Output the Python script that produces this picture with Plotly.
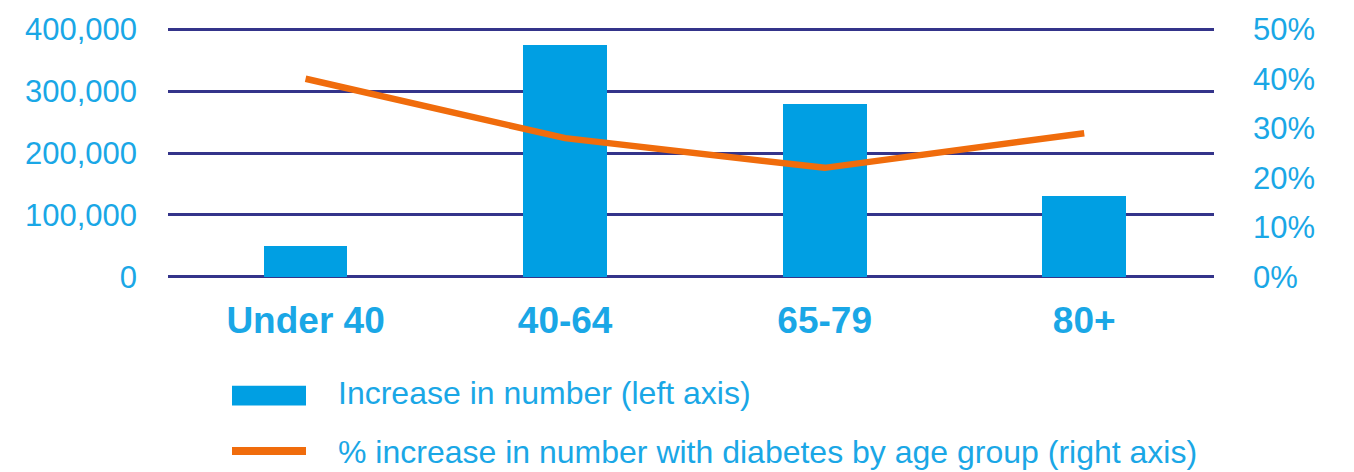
import plotly.graph_objects as go

categories = ["Under 40", "40-64", "65-79", "80+"]
increase_number = [50000, 375000, 280000, 130000]
pct_increase = [40, 28, 22, 29]
left_ticks = [0, 100000, 200000, 300000, 400000]
right_ticks = [0, 10, 20, 30, 40, 50]
legend_labels = ["Increase in number (left axis)",
                 "% increase in number with diabetes by age group (right axis)"]

BLUE = "#009FE3"
TEXT = "#1AA7E6"
ORANGE = "#F06C0C"
GRID = "#34348A"
FONT = "Liberation Sans, Arial, sans-serif"

W, H = 1354, 472
L, R, T, B = 168, 1214, 27, 277
PAD = 0.005  # small range padding so edge gridlines are drawn

ymax = left_ticks[-1]
y2max = right_ticks[-1]
span = B - T
top = T - PAD * span
bot = B + PAD * span

fig = go.Figure()
fig.add_trace(go.Bar(x=categories, y=increase_number, marker_color=BLUE,
                     marker_line_width=0, width=0.323, showlegend=False,
                     yaxis="y"))
fig.add_trace(go.Scatter(x=categories, y=pct_increase, mode="lines",
                         line=dict(color=ORANGE, width=6.5), showlegend=False,
                         yaxis="y2"))

fig.update_layout(
    width=W, height=H,
    margin=dict(l=L, r=W - R, t=top, b=H - bot, pad=0),
    paper_bgcolor="white", plot_bgcolor="white",
    font=dict(family=FONT, color=TEXT),
    xaxis=dict(range=[-0.53, 3.5], showgrid=False, zeroline=False,
               showline=False, ticks="",
               tickfont=dict(family=FONT, size=37, color=TEXT, weight="bold"),
               ticklabelstandoff=17),
    yaxis=dict(range=[-PAD * ymax, ymax * (1 + PAD)], tickvals=left_ticks,
               tickformat=",",
               showgrid=True, gridcolor=GRID, gridwidth=2.5,
               zeroline=False, showline=False, ticks="",
               tickfont=dict(family=FONT, size=31, color=TEXT),
               ticklabelstandoff=30),
    yaxis2=dict(range=[-PAD * y2max, y2max * (1 + PAD)], tickvals=right_ticks,
                ticktext=[f"{v}%" for v in right_ticks],
                overlaying="y", side="right", showgrid=False,
                zeroline=False, showline=False, ticks="",
                tickfont=dict(family=FONT, size=31, color=TEXT),
                ticklabelstandoff=38),
    bargap=0,
)

def px_x(px):
    return (px - L) / (R - L)

def px_y(py):
    return (bot - py) / (bot - top)

# custom legend
fig.add_shape(type="rect", xref="paper", yref="paper",
              x0=px_x(232), x1=px_x(306), y0=px_y(407), y1=px_y(387),
              fillcolor=BLUE, line_width=0)
fig.add_shape(type="line", xref="paper", yref="paper",
              x0=px_x(232), x1=px_x(306), y0=px_y(453), y1=px_y(453),
              line=dict(color=ORANGE, width=8))
for label, cy in zip(legend_labels, [394, 454]):
    fig.add_annotation(text=label, xref="paper", yref="paper",
                       x=px_x(336), y=px_y(cy), xanchor="left", yanchor="middle",
                       showarrow=False,
                       font=dict(family=FONT, size=32, color=TEXT))

fig.write_html("out.html")
